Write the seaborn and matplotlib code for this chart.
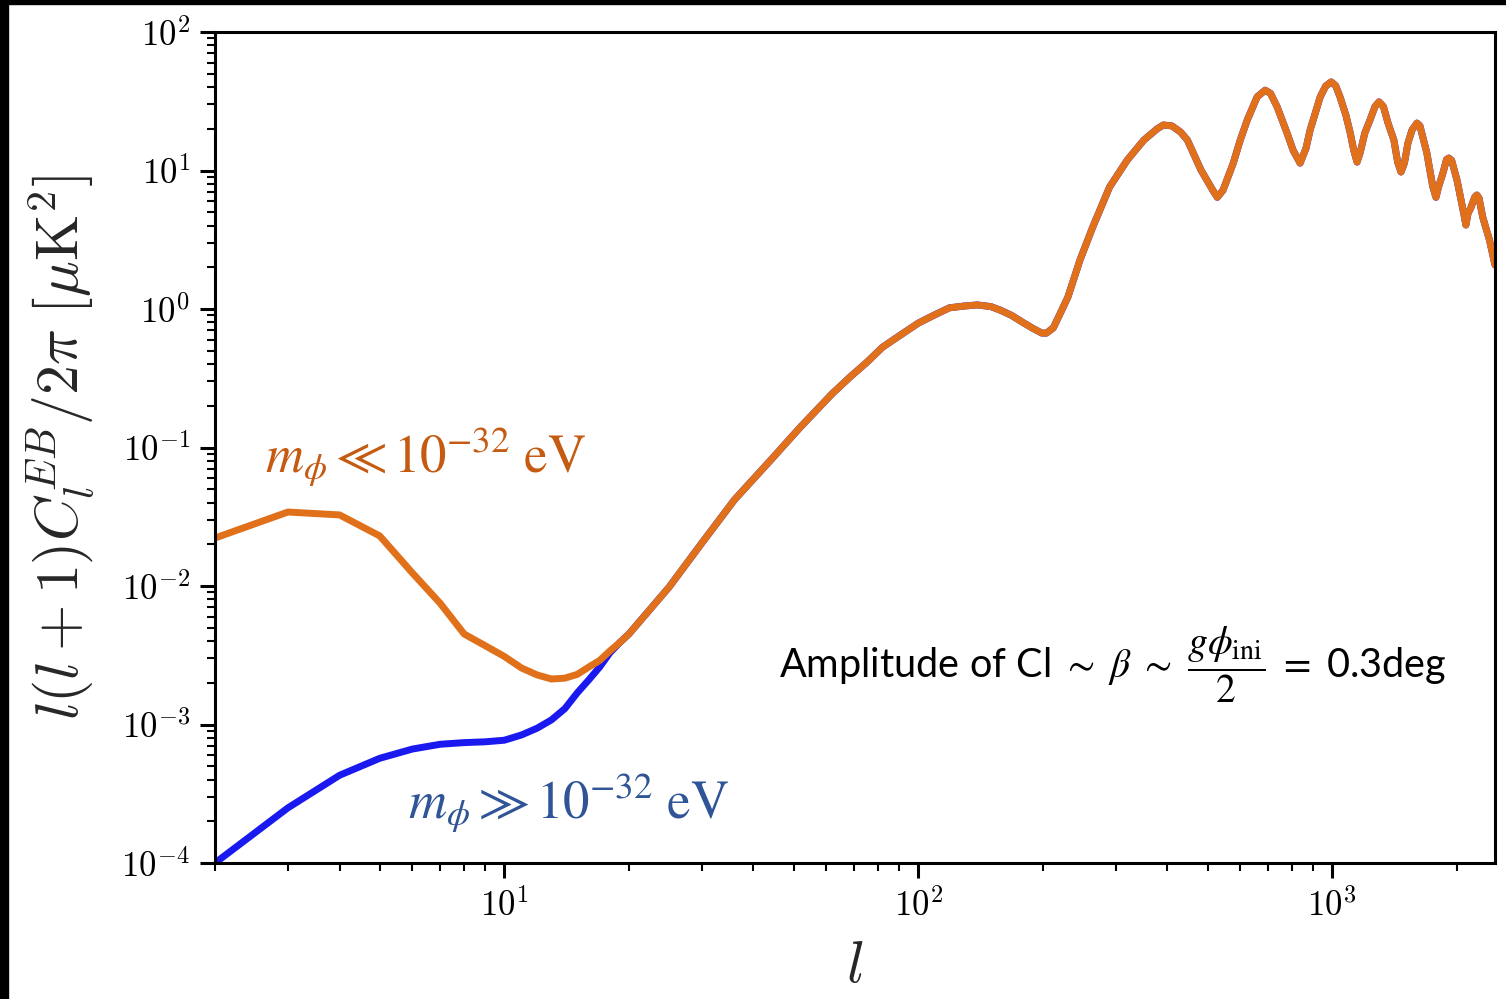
import numpy as np
import pandas as pd
import matplotlib
matplotlib.use("Agg")
import matplotlib.pyplot as plt
import matplotlib.ticker as mticker
from matplotlib.patches import Rectangle
import seaborn as sns

# ---------------- data ----------------
ell_low = [2, 3, 4, 5, 6, 7, 8, 9, 10, 11, 12, 13, 14, 15, 16, 17, 18, 19, 20]
cl_light_low = [0.0222, 0.0342, 0.0326, 0.023, 0.0124, 0.0075, 0.0045, 0.0037, 0.0031,
                0.00256, 0.00228, 0.00213, 0.00216, 0.0023, 0.0026, 0.0029, 0.0034,
                0.0039, 0.0045]
cl_heavy_low = [1.0e-4, 2.5e-4, 4.3e-4, 5.7e-4, 6.65e-4, 7.2e-4, 7.4e-4, 7.5e-4, 7.7e-4,
                8.4e-4, 9.4e-4, 1.08e-3, 1.3e-3, 1.69e-3, 2.1e-3, 2.6e-3, 3.3e-3,
                3.9e-3, 4.5e-3]

ell_high = [25, 30, 36, 44, 52, 62, 69, 75, 82, 90, 100, 109, 119, 129, 139, 150, 158,
            168, 179, 190, 199, 204, 212, 220, 230, 246, 264, 290, 320, 351, 378, 391,
            410, 430, 447, 482, 515, 528, 545, 577, 600, 624, 659, 689, 710, 737, 778,
            805, 837, 865, 885, 936, 965, 995, 1020, 1045, 1080, 1106, 1128, 1149,
            1170, 1200, 1235, 1270, 1298, 1330, 1365, 1410, 1440, 1467, 1495, 1525,
            1560, 1603, 1630, 1694, 1750, 1782, 1810, 1853, 1890, 1915, 1945, 2004,
            2080, 2105, 2130, 2163, 2210, 2238, 2265, 2312, 2400, 2475]
cl_high = [0.0098, 0.0204, 0.042, 0.081, 0.141, 0.245, 0.33, 0.41, 0.53, 0.64, 0.79,
           0.9, 1.02, 1.05, 1.07, 1.04, 0.98, 0.9, 0.8, 0.72, 0.67, 0.67, 0.73, 0.92,
           1.22, 2.26, 3.9, 7.6, 11.9, 16.6, 20.0, 21.3, 21.0, 19.0, 16.6, 10.1, 7.2,
           6.4, 7.2, 11.3, 16.6, 23.2, 34, 38, 36, 28.7, 18.7, 14, 11.3, 14.5, 19.6,
           34, 40.7, 43.6, 41, 34, 25, 18.7, 14, 11.5, 13.6, 18.7, 23.2, 29, 31.3, 29,
           22, 16.6, 11.5, 9.75, 11.3, 15.8, 19.6, 22, 21, 13.4, 7.7, 6.4, 7.7, 9.6,
           12.0, 12.3, 11.8, 8.5, 4.9, 4.04, 4.9, 5.36, 6.4, 6.65, 6.3, 4.6, 3.15, 2.08]

label_light = r"$m_\phi \ll 10^{-32}\ \mathrm{eV}$"
label_heavy = r"$m_\phi \gg 10^{-32}\ \mathrm{eV}$"

df_light = pd.DataFrame({"ell": ell_low + ell_high, "cl": cl_light_low + cl_high})
df_heavy = pd.DataFrame({"ell": ell_low + ell_high, "cl": cl_heavy_low + cl_high})

# ---------------- style ----------------
sns.set_theme(style="ticks")
plt.rcParams["font.family"] = ["DejaVu Sans"]
plt.rcParams["mathtext.fontset"] = "cm"

fig = plt.figure(figsize=(15.06, 9.99), dpi=100)
ax = fig.add_axes([215 / 1506, 1 - 863 / 999, (1495 - 215) / 1506, (863 - 32) / 999])

orange = "#E0701A"
blue = "#1A1AF0"

sns.lineplot(data=df_heavy, x="ell", y="cl", ax=ax, color=blue, lw=5.0,
             estimator=None, sort=True)
sns.lineplot(data=df_light, x="ell", y="cl", ax=ax, color=orange, lw=5.0,
             estimator=None, sort=True)

ax.set_xscale("log")
ax.set_yscale("log")
ax.set_xlim(2, 2475)
ax.set_ylim(1e-4, 1e2)

pow_fmt = mticker.FuncFormatter(lambda v, pos: r"$10^{%d}$" % int(round(np.log10(v))))
ax.yaxis.set_major_locator(mticker.LogLocator(base=10, numticks=20))
ax.yaxis.set_major_formatter(pow_fmt)
ax.yaxis.set_minor_locator(mticker.LogLocator(base=10, subs=np.arange(2, 10), numticks=100))
ax.yaxis.set_minor_formatter(mticker.NullFormatter())
ax.xaxis.set_major_locator(mticker.LogLocator(base=10, numticks=20))
ax.xaxis.set_major_formatter(pow_fmt)
ax.xaxis.set_minor_locator(mticker.LogLocator(base=10, subs=np.arange(2, 10), numticks=100))
ax.xaxis.set_minor_formatter(mticker.NullFormatter())

for s in ax.spines.values():
    s.set_linewidth(2.2)
    s.set_color("black")
ax.tick_params(which="major", direction="out", length=11, width=2.2, labelsize=25,
               pad=7, colors="black")
ax.tick_params(which="minor", direction="out", length=6, width=1.5, colors="black")
ax.tick_params(top=False, right=False, which="both")

ax.set_xlabel(r"$l$", fontsize=42, labelpad=10)
ax.set_ylabel(r"$l(l+1)C_l^{EB}/2\pi\ [\mu\mathrm{K}^2]$", fontsize=43, labelpad=18)

ax.text(0.039, 0.4705, label_light, transform=ax.transAxes, fontsize=38,
        color="#C55A11", math_fontfamily="stix", ha="left", va="baseline")
ax.text(0.151, 0.054, label_heavy, transform=ax.transAxes, fontsize=38,
        color="#2F5597", math_fontfamily="stix", ha="left", va="baseline")
ax.text(0.4406, 0.222,
        r"Amplitude of Cl $\sim\ \beta\ \sim\ \dfrac{g\phi_{\mathrm{ini}}}{2}\ =$ 0.3deg",
        transform=ax.transAxes, fontsize=28.5, family="Lato", math_fontfamily="stix",
        ha="left", va="baseline", color="black")

# black bands at the picture edges
fig.patches.append(Rectangle((0, 0), 8 / 1506, 1, transform=fig.transFigure,
                             color="black", zorder=10))
fig.patches.append(Rectangle((0, 1 - 4 / 999), 1, 4 / 999, transform=fig.transFigure,
                             color="black", zorder=10))

fig.savefig("out.png", dpi=100)
